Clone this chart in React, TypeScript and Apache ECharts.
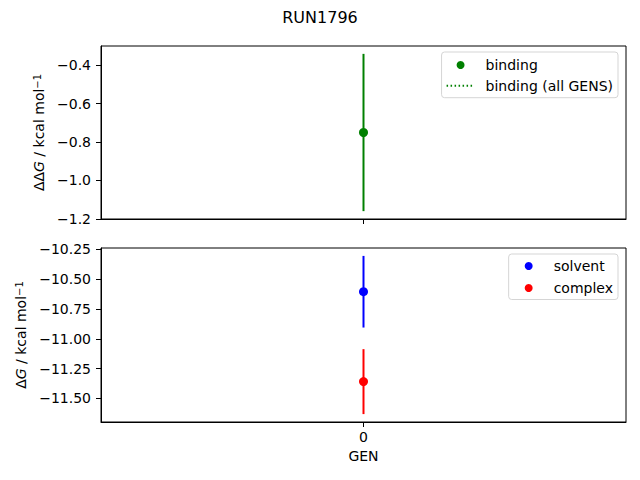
import React, { useEffect, useRef } from "react";
import * as echarts from "echarts";

const gens = ["0"];
const binding = [-0.75];
const bindingErr = [0.41];
const solvent = [-10.606];
const solventErr = [0.3];
const complexVals = [-11.359];
const complexErr = [0.272];
const topTicks = [-1.2, -1.0, -0.8, -0.6, -0.4];
const bottomTicks = [-11.5, -11.25, -11.0, -10.75, -10.5, -10.25];

const FONT = "DejaVu Sans";
const minus = (s: string) => s.replace("-", "\u2212");

function limits(vals: number[][], errs: number[][]) {
  let lo = Infinity;
  let hi = -Infinity;
  vals.forEach((arr, k) =>
    arr.forEach((v, i) => {
      lo = Math.min(lo, v - errs[k][i]);
      hi = Math.max(hi, v + errs[k][i]);
    })
  );
  const m = (hi - lo) * 0.05;
  return [lo - m, hi + m];
}

function errBar(color: string) {
  return (params: any, api: any) => {
    const x = api.value(0);
    const p1 = api.coord([x, api.value(1)]);
    const p2 = api.coord([x, api.value(2)]);
    return {
      type: "line",
      shape: { x1: p1[0], y1: p1[1], x2: p2[0], y2: p2[1] },
      style: { stroke: color, lineWidth: 2 },
    };
  };
}

export default function App() {
  const ref = useRef<HTMLDivElement>(null);
  useEffect(() => {
    if (!ref.current) return;
    const chart = echarts.init(ref.current, undefined, { renderer: "svg" });
    const [tMin, tMax] = limits([binding], [bindingErr]);
    const [bMin, bMax] = limits([solvent, complexVals], [solventErr, complexErr]);

    const axisLine = { show: true, lineStyle: { color: "#000", width: 1 } };
    const yAxisCommon = (ticks: number[], digits: number) => ({
      type: "value",
      splitLine: { show: false },
      axisLine,
      axisTick: { show: true, length: 5, lineStyle: { color: "#000" }, customValues: ticks },
      axisLabel: {
        color: "#000",
        fontSize: 14,
        fontFamily: FONT,
        margin: 10,
        customValues: ticks,
        formatter: (v: number) => minus(v.toFixed(digits)),
      },
      nameLocation: "middle",
      nameRotate: 90,
    });
    const rich = {
      n: { fontSize: 14, fontFamily: FONT, color: "#000" },
      i: { fontSize: 14, fontFamily: FONT, color: "#000", fontStyle: "italic" },
      s: { fontSize: 10, fontFamily: FONT, color: "#000", verticalAlign: "top", lineHeight: 10 },
    };
    const legendCommon = {
      orient: "vertical",
      itemWidth: 28,
      itemHeight: 8,
      selectedMode: false,
      backgroundColor: "rgba(255,255,255,0.8)",
      borderColor: "#d5d5d5",
      borderWidth: 1,
      borderRadius: 3,
      right: 22,
      textStyle: {
        fontSize: 14,
        fontFamily: FONT,
        color: "#000",
        lineHeight: 16,
        padding: [0, 0, 0, 6],
      },
    };

    chart.setOption({
      animation: false,
      textStyle: { fontFamily: FONT },
      title: {
        text: "RUN1796",
        left: "center",
        top: 9,
        padding: 0,
        textStyle: { fontSize: 16, fontWeight: "normal", color: "#000", fontFamily: FONT },
      },
      grid: [
        { left: 101, right: 14, top: 46, height: 173, show: true, borderColor: "#000", borderWidth: 1, backgroundColor: "transparent", outerBoundsMode: "none" },
        { left: 101, right: 14, top: 248, height: 174, show: true, borderColor: "#000", borderWidth: 1, backgroundColor: "transparent", outerBoundsMode: "none" },
      ],
      xAxis: [
        {
          gridIndex: 0,
          type: "category",
          data: gens,
          boundaryGap: true,
          axisLine,
          axisTick: { show: true, alignWithLabel: true, length: 5, lineStyle: { color: "#000" } },
          axisLabel: { show: false },
          splitLine: { show: false },
        },
        {
          gridIndex: 1,
          type: "category",
          data: gens,
          boundaryGap: true,
          axisLine,
          axisTick: { show: true, alignWithLabel: true, length: 5, lineStyle: { color: "#000" } },
          axisLabel: { show: true, color: "#000", fontSize: 14, fontFamily: FONT, margin: 8 },
          splitLine: { show: false },
          name: "GEN",
          nameLocation: "middle",
          nameGap: 27,
          nameTextStyle: { fontSize: 14, color: "#000", fontFamily: FONT },
        },
      ],
      yAxis: [
        {
          gridIndex: 0,
          ...yAxisCommon(topTicks, 1),
          min: tMin,
          max: tMax,
          name: "{n|\u0394\u0394}{i|G}{n| / kcal mol}{s|\u22121}",
          nameGap: 50,
          nameTextStyle: { rich },
        },
        {
          gridIndex: 1,
          ...yAxisCommon(bottomTicks, 2),
          min: bMin,
          max: bMax,
          name: "{n|\u0394}{i|G}{n| / kcal mol}{s|\u22121}",
          nameGap: 61,
          nameTextStyle: { rich },
        },
      ],
      legend: [
        {
          ...legendCommon,
          data: [
            "binding",
            {
              name: "binding (all GENS)",
              itemStyle: { color: "rgba(0,0,0,0)", borderWidth: 0 },
            },
          ],
          lineStyle: { width: 2, type: [1.5, 2.5], color: "#008000", cap: "butt" },
          top: 52,
          padding: [5, 5, 4, 4],
          itemGap: 4.7,
        },
        {
          ...legendCommon,
          data: ["solvent", "complex"],
          top: 254,
          padding: [4, 5, 3.5, 16],
          itemGap: 6,
        },
      ],
      series: [
        {
          type: "custom",
          name: "binding err",
          xAxisIndex: 0,
          yAxisIndex: 0,
          renderItem: errBar("#008000"),
          data: binding.map((v, i) => [i, v - bindingErr[i], v + bindingErr[i]]),
          encode: { x: 0, y: [1, 2] },
          z: 1,
        },
        {
          type: "scatter",
          name: "binding",
          xAxisIndex: 0,
          yAxisIndex: 0,
          symbol: "circle",
          symbolSize: 9,
          itemStyle: { color: "#008000", opacity: 1 },
          data: binding.map((v, i) => [i, v]),
          z: 3,
        },
        {
          type: "line",
          name: "binding (all GENS)",
          xAxisIndex: 0,
          yAxisIndex: 0,
          symbol: "none",
          lineStyle: { color: "#008000", width: 2, type: [1.5, 2.5] },
          itemStyle: { color: "rgba(0,0,0,0)" },
          data: [],
        },
        {
          type: "custom",
          name: "solvent err",
          xAxisIndex: 1,
          yAxisIndex: 1,
          renderItem: errBar("#0000ff"),
          data: solvent.map((v, i) => [i, v - solventErr[i], v + solventErr[i]]),
          encode: { x: 0, y: [1, 2] },
          z: 1,
        },
        {
          type: "custom",
          name: "complex err",
          xAxisIndex: 1,
          yAxisIndex: 1,
          renderItem: errBar("#ff0000"),
          data: complexVals.map((v, i) => [i, v - complexErr[i], v + complexErr[i]]),
          encode: { x: 0, y: [1, 2] },
          z: 1,
        },
        {
          type: "scatter",
          name: "solvent",
          xAxisIndex: 1,
          yAxisIndex: 1,
          symbol: "circle",
          symbolSize: 9,
          itemStyle: { color: "#0000ff", opacity: 1 },
          data: solvent.map((v, i) => [i, v]),
          z: 3,
        },
        {
          type: "scatter",
          name: "complex",
          xAxisIndex: 1,
          yAxisIndex: 1,
          symbol: "circle",
          symbolSize: 9,
          itemStyle: { color: "#ff0000", opacity: 1 },
          data: complexVals.map((v, i) => [i, v]),
          z: 3,
        },
      ],
    });
    return () => chart.dispose();
  }, []);
  return <div ref={ref} style={{ width: 640, height: 480, position: "absolute", left: 0, top: 0 }} />;
}
